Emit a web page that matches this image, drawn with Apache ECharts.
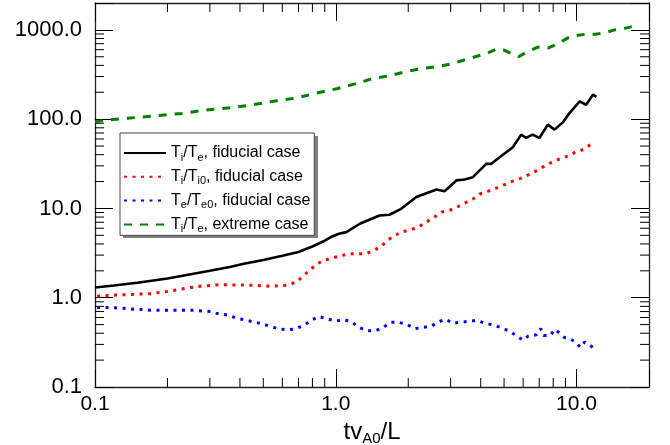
<!DOCTYPE html>
<html>
<head>
<meta charset="utf-8">
<script src="https://cdn.jsdelivr.net/npm/echarts@6/dist/echarts.min.js"></script>
<style>html,body{margin:0;padding:0;background:#fff}#c{width:670px;height:445px}</style>
</head>
<body>
<div id="c"></div>
<script>
// ---- data ----
const seriesNames = ['Ti/Te, fiducial case', 'Ti/Ti0, fiducial case', 'Te/Te0, fiducial case', 'Ti/Te, extreme case'];
const blackX = [0.1,0.12,0.15,0.2,0.25,0.3,0.363,0.42,0.5,0.6,0.7,0.8,0.9,0.95,1.03,1.107,1.258,1.52,1.67,1.87,2.16,2.38,2.62,2.83,3.17,3.43,3.71,4.22,4.43,4.79,5.44,5.89,6.17,6.57,7.01,7.6,8.1,8.77,9.35,10.3,10.96,11.7,12.1];
const blackY = [1.30,1.37,1.47,1.64,1.83,2.0,2.21,2.42,2.65,2.95,3.25,3.75,4.35,4.75,5.2,5.43,6.74,8.35,8.5,9.9,13.4,14.8,16.3,15.6,20.6,21.1,22.4,31.6,31.6,37.4,48.4,67.1,61.6,67,61.6,86.8,76.3,92,117,158,145,188,178];
const redX = [0.102,0.121,0.144,0.169,0.198,0.236,0.277,0.33,0.387,0.46,0.541,0.641,0.69,0.73,0.78,0.83,0.89,1.03,1.13,1.22,1.33,1.44,1.55,1.64,1.76,1.9,2.06,2.23,2.39,2.57,2.75,2.97,3.22,3.46,3.72,3.99,4.3,4.64,5.0,5.44,5.85,6.3,6.8,7.3,7.85,8.5,9.2,9.9,10.7,11.4];
const redY = [1.04,1.07,1.09,1.11,1.17,1.27,1.35,1.40,1.39,1.38,1.34,1.39,1.52,1.74,2.03,2.37,2.62,2.91,3.1,3.1,3.1,3.39,3.8,4.39,4.98,5.5,5.8,6.3,7.1,8.0,9.1,9.5,10.5,11.6,12.8,14.6,15.6,16.9,18.4,20.2,21.7,23.7,26.3,29.4,32.7,35.8,38.6,42.8,45.8,51.6];
const blueX = [0.102,0.112,0.121,0.132,0.143,0.156,0.169,0.184,0.2,0.218,0.237,0.257,0.28,0.302,0.328,0.357,0.387,0.419,0.454,0.495,0.535,0.58,0.63,0.68,0.74,0.79,0.85,0.91,1.0,1.08,1.17,1.25,1.35,1.46,1.58,1.69,1.83,1.98,2.13,2.3,2.49,2.67,2.86,3.07,3.33,3.58,3.85,4.15,4.43,4.66,5.0,5.35,5.7,6.0,6.3,6.8,7.1,7.3,7.8,8.1,8.5,8.9,9.5,9.9,10.4,10.8,11.2,11.7];
const blueY = [0.777,0.777,0.77,0.76,0.745,0.74,0.725,0.725,0.725,0.725,0.725,0.725,0.71,0.70,0.655,0.64,0.588,0.565,0.537,0.51,0.477,0.448,0.437,0.448,0.493,0.556,0.617,0.585,0.547,0.57,0.53,0.464,0.426,0.426,0.468,0.53,0.53,0.50,0.45,0.464,0.48,0.535,0.574,0.518,0.533,0.544,0.557,0.52,0.50,0.48,0.448,0.412,0.365,0.335,0.371,0.384,0.45,0.378,0.378,0.441,0.404,0.359,0.341,0.318,0.278,0.318,0.302,0.278];
const greenX = [0.1,0.115,0.14,0.18,0.23,0.29,0.375,0.45,0.57,0.69,0.83,1.01,1.22,1.43,1.67,1.96,2.3,2.72,3.07,3.58,4.22,4.64,5.0,5.44,5.77,6.17,6.9,7.6,8.4,9.2,9.9,10.96,12.0,13.2,14.4,15.6,16.9,17.5];
const greenY = [93.8,98,103,109,116,127,135,145,161,173,196,219,251,286,306,342,370,393,420,478,543,608,593,535,503,557,641,625,703,814,863,895,895,933,1000,1035,1081,1090];
const xMajorTicks = [0.1, 1, 10];
const yMajorTicks = [0.1, 1, 10, 100, 1000];
const xMinorTicks = [0.2,0.3,0.4,0.5,0.6,0.7,0.8,0.9,2,3,4,5,6,7,8,9];
const yMinorTicks = [0.2,0.3,0.4,0.5,0.6,0.7,0.8,0.9,2,3,4,5,6,7,8,9,20,30,40,50,60,70,80,90,200,300,400,500,600,700,800,900];
const X_MIN = 0.1, X_MAX = 20, Y_MIN = 0.1, Y_MAX = 2000;

// ---- helpers ----
const zip = (a, b) => a.map((v, i) => [v, b[i]]);
const isMajor = (v, list) => list.some(t => Math.abs(Math.log10(v) - Math.log10(t)) < 1e-6);
const FONT = '"Liberation Sans", Arial, Helvetica, sans-serif';
const legendRich = {
  n: { fontSize: 16, fontFamily: FONT, color: '#000', lineHeight: 20 },
  s: { fontSize: 11, fontFamily: FONT, color: '#000', lineHeight: 11, verticalAlign: 'bottom' }
};
const legendLabels = {
  'Ti/Te, fiducial case': '{n|T}{s|i}{n|/T}{s|e}{n|, fiducial case}',
  'Ti/Ti0, fiducial case': '{n|T}{s|i}{n|/T}{s|i0}{n|, fiducial case}',
  'Te/Te0, fiducial case': '{n|T}{s|e}{n|/T}{s|e0}{n|, fiducial case}',
  'Ti/Te, extreme case': '{n|T}{s|i}{n|/T}{s|e}{n|, extreme case}'
};
const MAJOR_LEN = 18, MINOR_LEN = 9;

function tickLine(x1, y1, x2, y2) {
  return { type: 'line', shape: { x1: x1, y1: y1, x2: x2, y2: y2 }, style: { stroke: '#000', lineWidth: 1 } };
}
function xMinorRender(params, api) {
  const v = api.value(0);
  const b = api.coord([v, Y_MIN]);
  const t = api.coord([v, Y_MAX]);
  return { type: 'group', children: [
    tickLine(b[0], b[1], b[0], b[1] - MINOR_LEN),
    tickLine(t[0], t[1], t[0], t[1] + MINOR_LEN)
  ]};
}
function yMinorRender(params, api) {
  const v = api.value(1);
  const l = api.coord([X_MIN, v]);
  const r = api.coord([X_MAX, v]);
  return { type: 'group', children: [
    tickLine(l[0], l[1], l[0] + MINOR_LEN, l[1]),
    tickLine(r[0], r[1], r[0] - MINOR_LEN, r[1])
  ]};
}
function mkAxis(pos, min, max, labelOpt) {
  return {
    type: 'log', logBase: 10, min: min, max: max, position: pos,
    axisLine: { show: true, lineStyle: { color: '#222', width: 1.3 } },
    axisTick: { show: true, inside: true, length: MAJOR_LEN, lineStyle: { color: '#000', width: 1 } },
    splitLine: { show: false },
    axisLabel: labelOpt
  };
}

const chart = echarts.init(document.getElementById('c'));
const xBottom = mkAxis('bottom', X_MIN, X_MAX, { show: true, fontSize: 21, fontFamily: FONT, color: '#000', margin: 7,
  formatter: v => isMajor(v, xMajorTicks) ? Number(v).toFixed(1) : '' });
xBottom.name = '{n|tv}{s|A0}{n|/L}';
xBottom.nameLocation = 'middle';
xBottom.nameGap = 31;
xBottom.nameTextStyle = { rich: {
  n: { fontSize: 24, fontFamily: FONT, color: '#000', lineHeight: 28 },
  s: { fontSize: 15, fontFamily: FONT, color: '#000', lineHeight: 15, verticalAlign: 'bottom' }
} };
const yLeft = mkAxis('left', Y_MIN, Y_MAX, { show: true, fontSize: 22, fontFamily: FONT, color: '#000', margin: 13,
  formatter: v => isMajor(v, yMajorTicks) ? Number(v).toFixed(1) : '' });

chart.setOption({
  animation: false,
  grid: { left: 95, right: 21, top: 3, bottom: 58, containLabel: false, outerBoundsMode: 'none' },
  xAxis: [xBottom, mkAxis('top', X_MIN, X_MAX, { show: false })],
  yAxis: [yLeft, mkAxis('right', Y_MIN, Y_MAX, { show: false })],
  graphic: [{ type: 'rect', left: 123, top: 136, z: 0, silent: true,
    shape: { width: 195, height: 102 }, style: { fill: '#808080' } }],
  legend: {
    data: seriesNames,
    orient: 'vertical',
    left: 120, top: 133,
    padding: [12, 4, 1, 3],
    itemGap: 5.8,
    itemWidth: 42, itemHeight: 14,
    backgroundColor: '#fff',
    borderColor: '#444', borderWidth: 1,
    z: 5,
    itemStyle: { opacity: 0 },
    formatter: name => legendLabels[name],
    textStyle: { rich: legendRich }
  },
  series: [
    { name: seriesNames[0], type: 'line', data: zip(blackX, blackY), symbol: 'none', showSymbol: false,
      lineStyle: { color: '#000', width: 2.6 }, itemStyle: { color: '#000' } },
    { name: seriesNames[1], type: 'line', data: zip(redX, redY), symbol: 'none', showSymbol: false,
      lineStyle: { color: '#ff0000', width: 3, type: [3, 5.5] }, itemStyle: { color: '#ff0000' } },
    { name: seriesNames[2], type: 'line', data: zip(blueX, blueY), symbol: 'none', showSymbol: false,
      lineStyle: { color: '#0000ff', width: 3, type: [3, 5.5] }, itemStyle: { color: '#0000ff' } },
    { name: seriesNames[3], type: 'line', data: zip(greenX, greenY), symbol: 'none', showSymbol: false,
      lineStyle: { color: '#008000', width: 3, type: [8, 8] }, itemStyle: { color: '#008000' } },
    { name: 'xminor', type: 'custom', data: xMinorTicks.map(v => [v, 1]), renderItem: xMinorRender,
      silent: true, clip: false },
    { name: 'yminor', type: 'custom', data: yMinorTicks.map(v => [1, v]), renderItem: yMinorRender,
      silent: true, clip: false }
  ]
});
</script>
</body>
</html>
